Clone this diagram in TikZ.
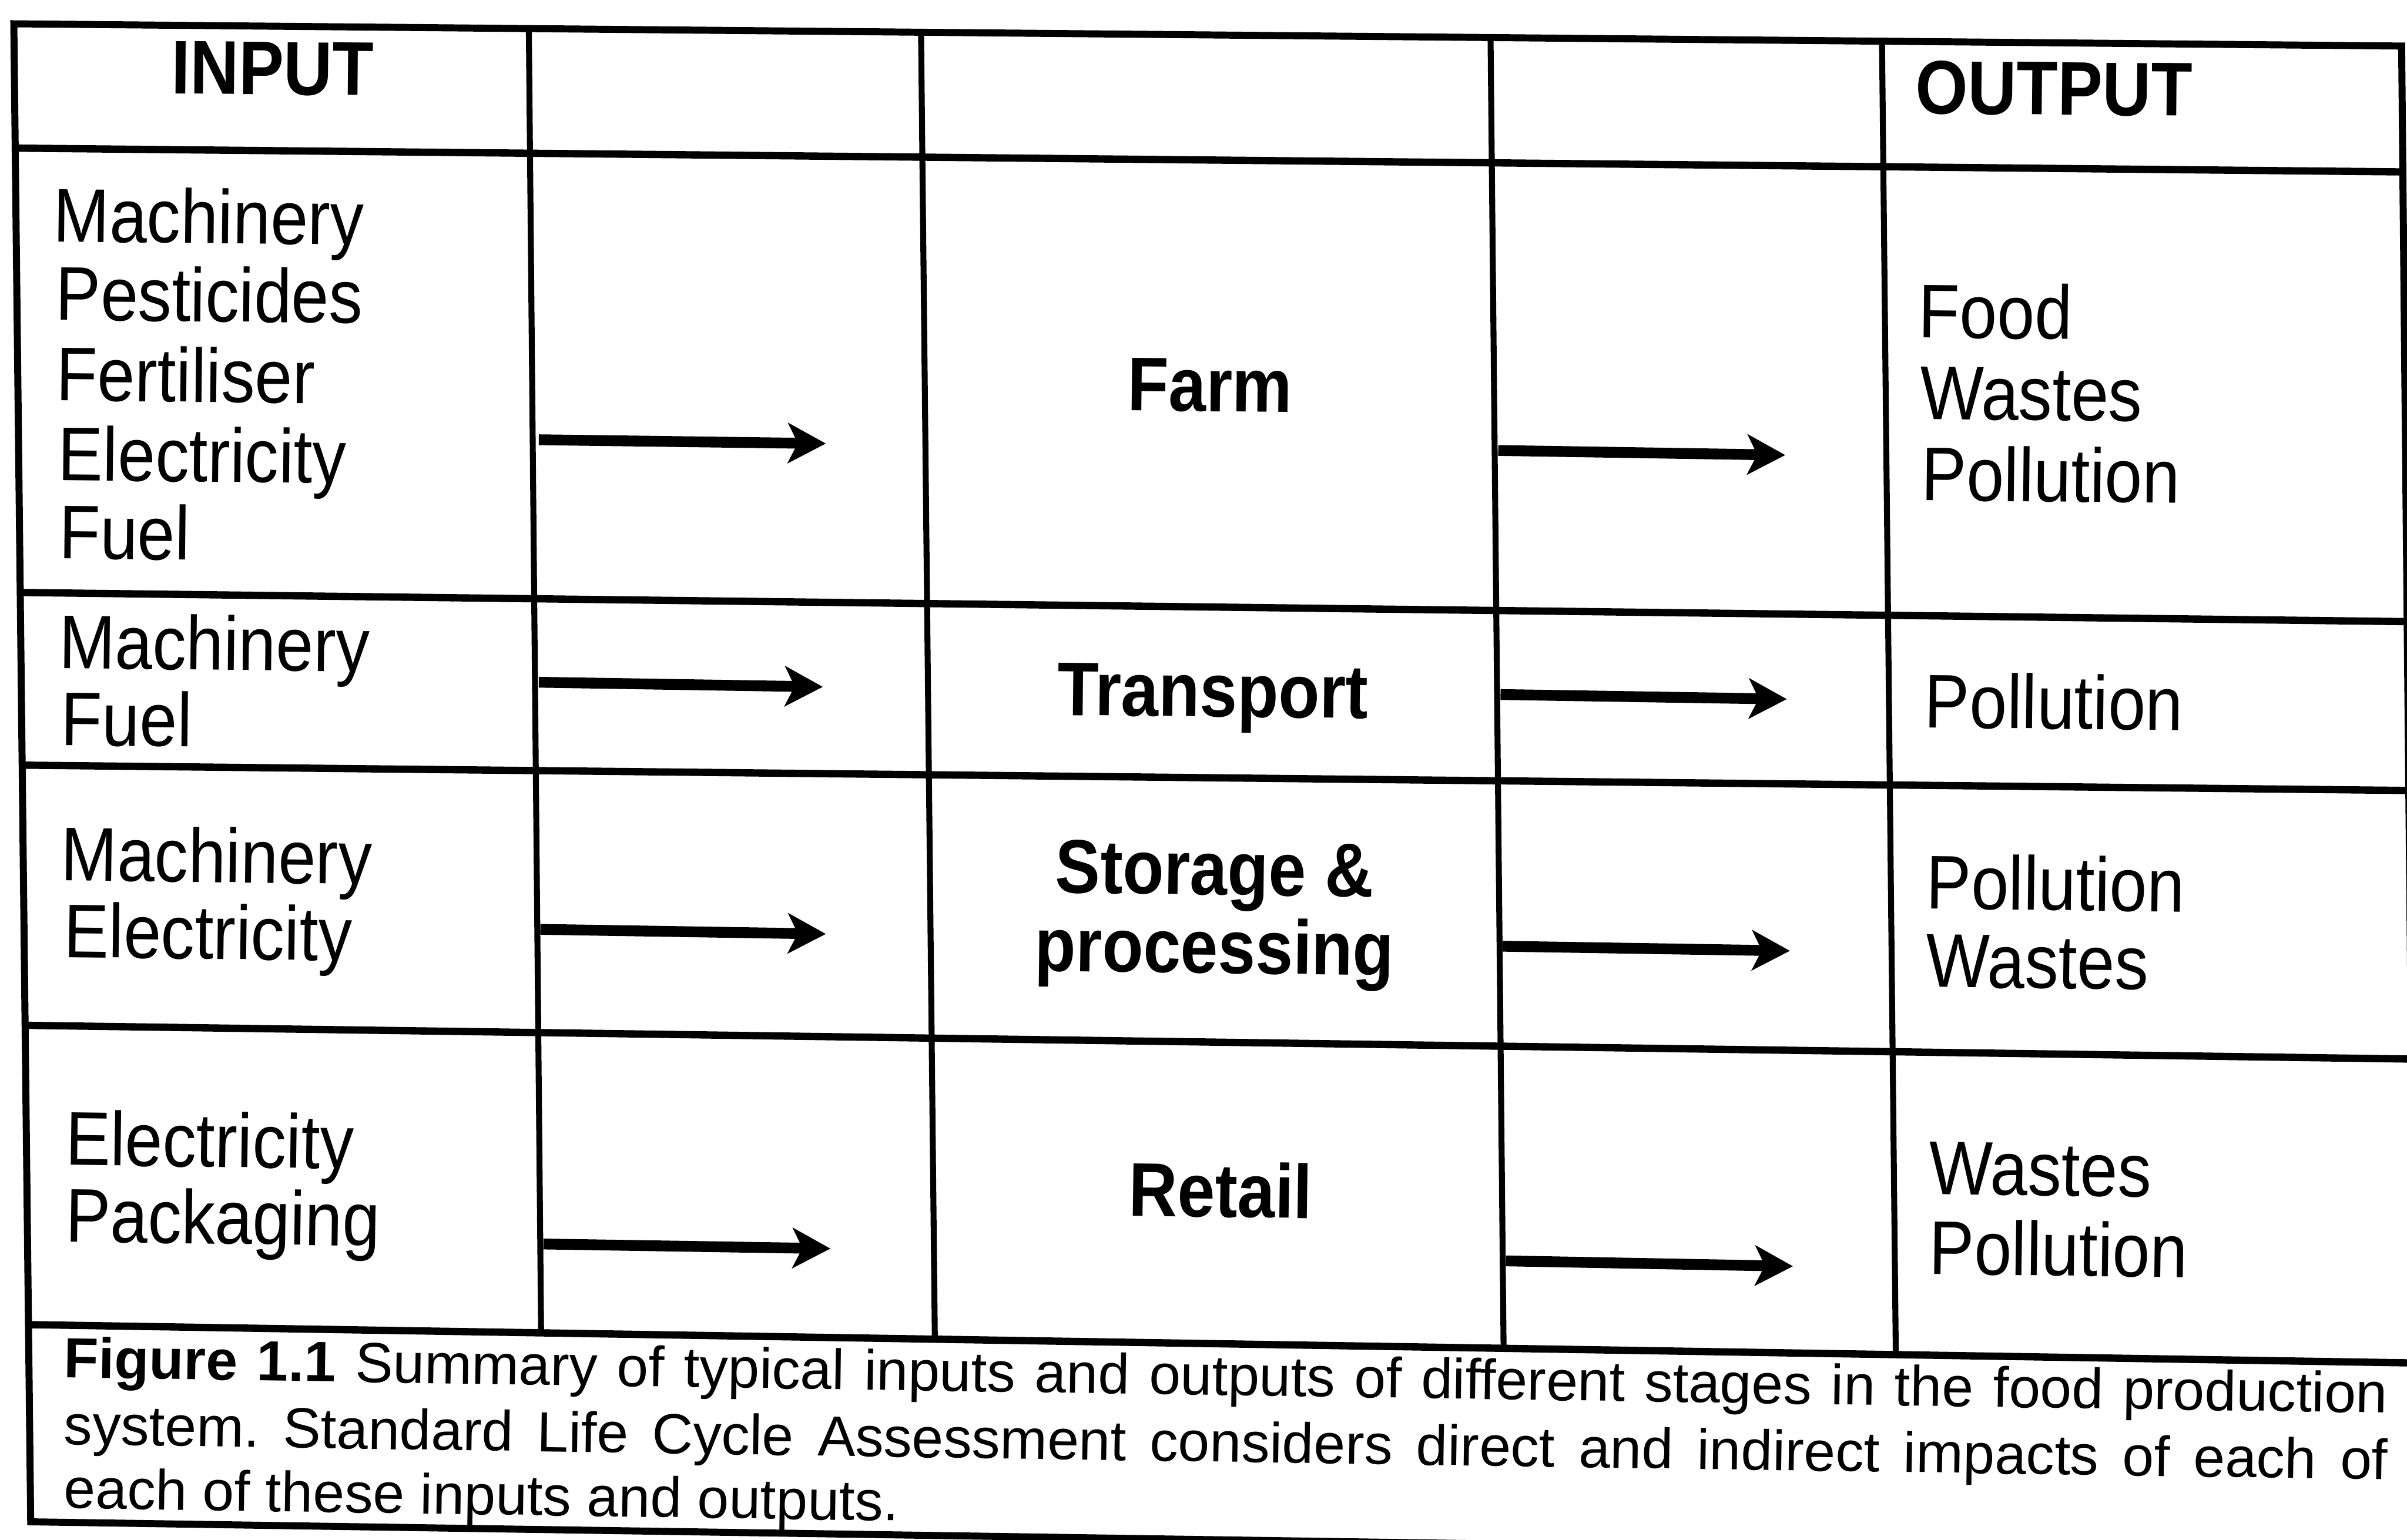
\documentclass[tikz,border=0pt]{standalone}
\usepackage{fontspec}
\setmainfont{Liberation Sans}
\newfontfamily\cellfont[FakeStretch=0.885]{Liberation Sans}
\usetikzlibrary{arrows.meta}
\frenchspacing
\tikzset{
  cell/.style={font=\cellfont\fontsize{14.1}{16}\selectfont, inner sep=0pt, anchor=base west},
  stage/.style={font=\cellfont\bfseries\fontsize{14.1}{16}\selectfont, inner sep=0pt, anchor=base},
  head/.style={font=\cellfont\bfseries\fontsize{14.1}{16}\selectfont, inner sep=0pt, anchor=base west},
  capline/.style={font=\fontsize{10.5}{12.1}\selectfont, inner sep=0pt, anchor=base west, rotate=-0.87},
  frame/.style={line width=1.3pt, line join=miter},
  hrule/.style={line width=1.35pt},
  vrule/.style={line width=1.1pt},
  flow/.style={line width=2pt, -{Stealth[length=7pt,width=7.4pt,inset=1.8pt]}},
  r0/.style={rotate=-0.5}, r1/.style={rotate=-0.6}, r2/.style={rotate=-0.6},
  r3/.style={rotate=-0.72}, r4/.style={rotate=-0.8}
}
\begin{document}
\frenchspacing
\begin{tikzpicture}[x=0.01cm,y=-0.01cm]
\useasboundingbox (0,0) rectangle (1568,1003);
\clip (0,0) rectangle (1568,1003);

% frame corners
\coordinate (TL) at (9,15.5);
\coordinate (TR) at (1564.5,30);
\coordinate (BR) at (1574,1015);
\coordinate (BL) at (20,991.5);
\draw[frame] (TL) -- (TR) -- (BR) -- (BL) -- cycle;

% horizontal rules
\coordinate (h1l) at (10,96.5);  \coordinate (h1r) at (1565,112);
\coordinate (h2l) at (12,386);   \coordinate (h2r) at (1567,405);
\coordinate (h3l) at (13,498.5); \coordinate (h3r) at (1568,515);
\coordinate (h4l) at (15,668);   \coordinate (h4r) at (1570,690);
\coordinate (h5l) at (17,863);   \coordinate (h5r) at (1572,888);
\foreach \i in {1,...,5} {\draw[hrule] (h\i l) -- (h\i r);}

% vertical rules
\coordinate (c1t) at (344.5,19); \coordinate (c1b) at (352.5,869);
\coordinate (c2t) at (600,21);   \coordinate (c2b) at (609,873);
\coordinate (c3t) at (971,25);   \coordinate (c3b) at (979.5,879);
\coordinate (c4t) at (1226,27);  \coordinate (c4b) at (1235,883);
\foreach \i in {1,...,4} {\draw[vrule] (c\i t) -- (c\i b);}

% headers
\node[head,r0] (hin) at (111,61) {INPUT};
\node[head,r0] (hout) at (1247,74) {OUTPUT};

% row 1
\node[cell,r1] (i1a) at (34,157.4) {Machinery};
\node[cell,r1] (i1b) at (35.5,208.5) {Pesticides};
\node[cell,r1] (i1c) at (36,261) {Fertiliser};
\node[cell,r1] (i1d) at (37,313) {Electricity};
\node[cell,r1] (i1e) at (37.6,364) {Fuel};
\node[stage,r1] (s1) at (788,268) {Farm};
\node[cell,r1] (o1a) at (1249,220) {Food};
\node[cell,r1] (o1b) at (1250,273) {Wastes};
\node[cell,r1] (o1c) at (1251,326) {Pollution};

% row 2
\node[cell,r2] (i2a) at (37.6,435.5) {Machinery};
\node[cell,r2] (i2b) at (39,485.5) {Fuel};
\node[stage,r2] (s2) at (790,467) {Transport};
\node[cell,r2] (o2a) at (1253,474) {Pollution};

% row 3
\node[cell,r3] (i3a) at (39,573.6) {Machinery};
\node[cell,r3] (i3b) at (40.7,623.6) {Electricity};
\node[stage,r3] (s3a) at (791,583) {Storage \&};
\node[stage,r3] (s3b) at (791,634) {processing};
\node[cell,r3] (o3a) at (1254,592) {Pollution};
\node[cell,r3] (o3b) at (1254,643) {Wastes};

% row 4
\node[cell,r4] (i4a) at (41.8,759) {Electricity};
\node[cell,r4] (i4b) at (41.8,809) {Packaging};
\node[stage,r4] (s4) at (795,793) {Retail};
\node[cell,r4] (o4a) at (1256,778) {Wastes};
\node[cell,r4] (o4b) at (1256,830) {Pollution};

% arrows
\coordinate (a1s) at (351,286.5);  \coordinate (a1e) at (538,289);
\coordinate (b1s) at (976,293.5);  \coordinate (b1e) at (1163,296.5);
\coordinate (a2s) at (351,444.5);  \coordinate (a2e) at (536,447.5);
\coordinate (b2s) at (977.5,452.5);\coordinate (b2e) at (1164,455.5);
\coordinate (a3s) at (352,605.5);  \coordinate (a3e) at (538,608.5);
\coordinate (b3s) at (979,616.5);  \coordinate (b3e) at (1166,619.5);
\coordinate (a4s) at (354,810.5);  \coordinate (a4e) at (541,813.5);
\coordinate (b4s) at (981,821.5);  \coordinate (b4e) at (1168,825);
\foreach \i in {1,...,4} {
  \draw[flow] (a\i s) -- (a\i e);
  \draw[flow] (b\i s) -- (b\i e);
}

% caption
\node[capline] (cap1) at (41,897.6) {\makebox[15.13cm][s]{\textbf{Figure 1.1} Summary of typical inputs and outputs of different stages in the food production}};
\node[capline] (cap2) at (41,941) {\makebox[15.13cm][s]{system. Standard Life Cycle Assessment considers direct and indirect impacts of each of}};
\node[capline] (cap3) at (41,982.6) {each of these inputs and outputs.};
\end{tikzpicture}
\end{document}
